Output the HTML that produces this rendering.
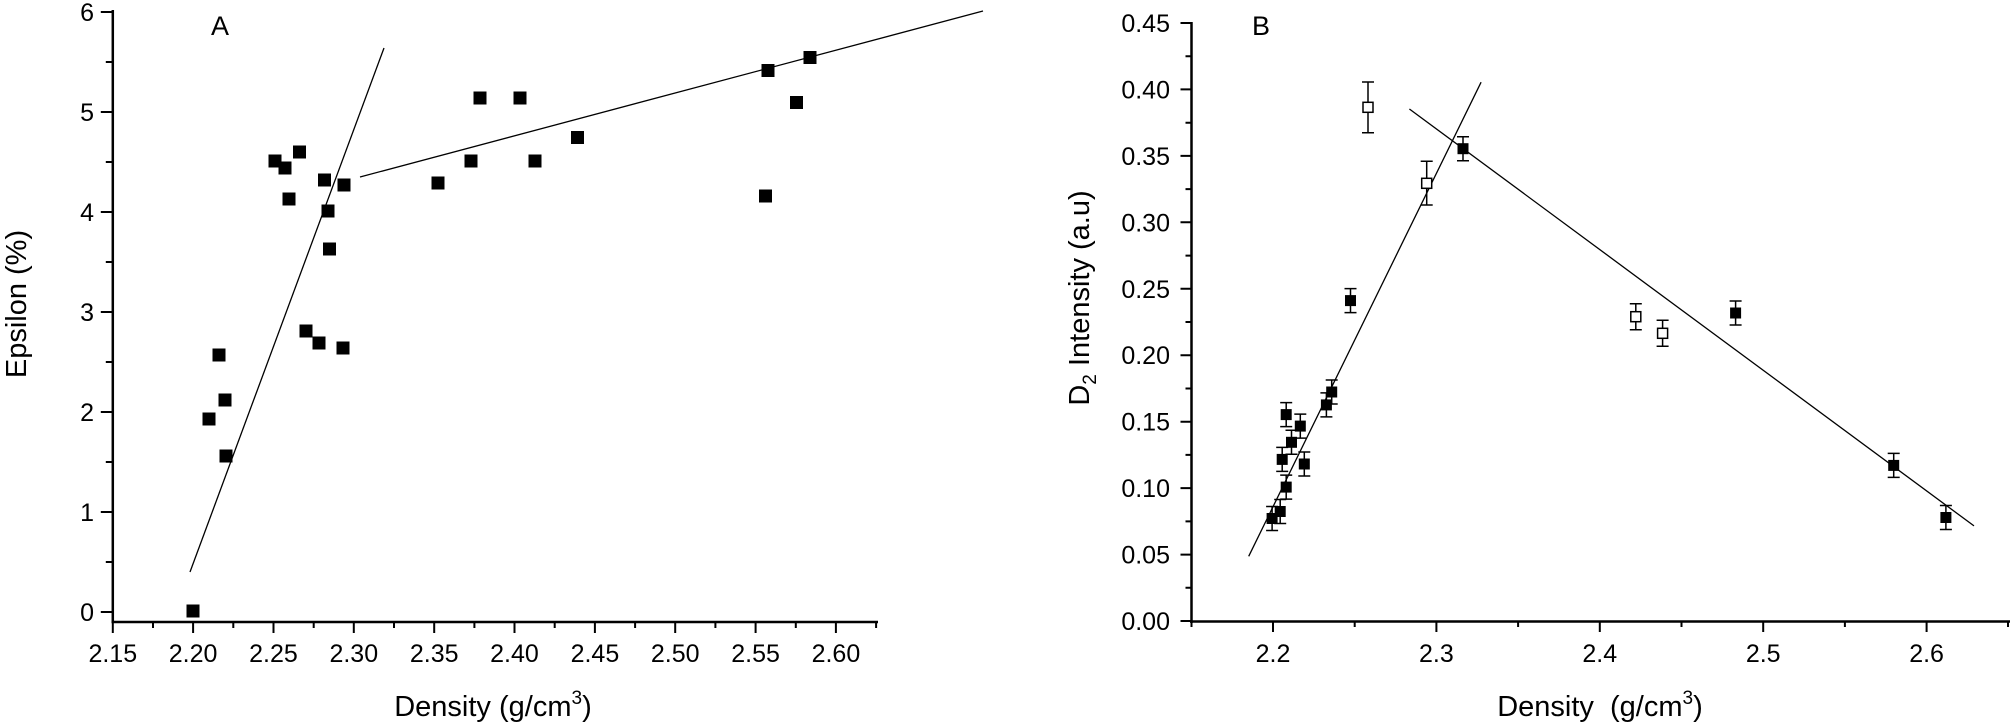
<!DOCTYPE html>
<html><head><meta charset="utf-8"><style>
html,body{margin:0;padding:0;background:#fff;}
svg{display:block;font-family:"Liberation Sans",sans-serif;}
</style></head><body>
<svg width="2010" height="724" viewBox="0 0 2010 724" xmlns="http://www.w3.org/2000/svg">
<!-- Panel A -->
<g stroke="#000" fill="none">
<line x1="112.8" y1="10" x2="112.8" y2="623" stroke-width="2.5"/>
<line x1="111.5" y1="622" x2="878" y2="622" stroke-width="2.5"/>
<path stroke-width="2" d="M112.8 612h-12M112.8 512h-12M112.8 412h-12M112.8 312h-12M112.8 212h-12M112.8 112h-12M112.8 12h-12
M112.8 562h-7M112.8 462h-7M112.8 362h-7M112.8 262h-7M112.8 162h-7M112.8 62h-7"/>
<path stroke-width="2" d="M112.8 622v11M193.1 622v11M273.5 622v11M353.8 622v11M434.2 622v11M514.5 622v11M594.9 622v11M675.2 622v11M755.6 622v11M835.9 622v11
M153 622v6M233.3 622v6M313.7 622v6M394 622v6M474.4 622v6M554.7 622v6M635.1 622v6M715.4 622v6M795.8 622v6M876.1 622v6"/>
<line x1="190" y1="572" x2="384" y2="48" stroke-width="1.3"/>
<line x1="360" y1="177" x2="983" y2="11" stroke-width="1.3"/>
</g>
<g font-size="25" text-anchor="end">
<text x="94" y="621">0</text><text x="94" y="521">1</text><text x="94" y="421">2</text><text x="94" y="321">3</text><text x="94" y="221">4</text><text x="94" y="121">5</text><text x="94" y="21">6</text>
</g>
<g font-size="25" text-anchor="middle">
<text x="112.8" y="662">2.15</text><text x="193.1" y="662">2.20</text><text x="273.5" y="662">2.25</text><text x="353.8" y="662">2.30</text><text x="434.2" y="662">2.35</text><text x="514.5" y="662">2.40</text><text x="594.9" y="662">2.45</text><text x="675.2" y="662">2.50</text><text x="755.6" y="662">2.55</text><text x="835.9" y="662">2.60</text>
</g>
<text x="493" y="716" font-size="29" text-anchor="middle">Density (g/cm<tspan font-size="19" dy="-12">3</tspan><tspan dy="12">)</tspan></text>
<text transform="translate(26,304) rotate(-90)" font-size="29" text-anchor="middle">Epsilon (%)</text>
<text x="220" y="35" font-size="27" text-anchor="middle">A</text>
<g fill="#000">
<rect x="186.5" y="604.5" width="13" height="13"/><rect x="202.5" y="412.5" width="13" height="13"/><rect x="212.5" y="348.5" width="13" height="13"/><rect x="218.5" y="393.5" width="13" height="13"/><rect x="219.5" y="449.5" width="13" height="13"/>
<rect x="268.5" y="154.5" width="13" height="13"/><rect x="278.5" y="161.5" width="13" height="13"/><rect x="282.5" y="192.5" width="13" height="13"/><rect x="293" y="145.5" width="13" height="13"/><rect x="299.5" y="324.5" width="13" height="13"/><rect x="312.5" y="336.5" width="13" height="13"/><rect x="318" y="173.5" width="13" height="13"/><rect x="321.5" y="204.5" width="13" height="13"/><rect x="323" y="242.5" width="13" height="13"/><rect x="336.5" y="341.5" width="13" height="13"/><rect x="337.5" y="178.5" width="13" height="13"/>
<rect x="431.5" y="176.5" width="13" height="13"/><rect x="464.5" y="154.5" width="13" height="13"/><rect x="473.5" y="91.5" width="13" height="13"/><rect x="513.5" y="91.5" width="13" height="13"/><rect x="528.5" y="154.5" width="13" height="13"/><rect x="571" y="131" width="13" height="13"/>
<rect x="761.5" y="64" width="13" height="13"/><rect x="759" y="189.5" width="13" height="13"/><rect x="790" y="96" width="13" height="13"/><rect x="803.5" y="51" width="13" height="13"/>
</g>
<!-- Panel B -->
<g stroke="#000" fill="none">
<line x1="1191.5" y1="22" x2="1191.5" y2="623" stroke-width="2.5"/>
<line x1="1190" y1="621.5" x2="2010" y2="621.5" stroke-width="2.5"/>
<path stroke-width="2" d="M1191.5 621h-11M1191.5 554.6h-11M1191.5 488.1h-11M1191.5 421.7h-11M1191.5 355.2h-11M1191.5 288.8h-11M1191.5 222.3h-11M1191.5 155.9h-11M1191.5 89.4h-11M1191.5 23h-11
M1191.5 587.8h-6M1191.5 521.4h-6M1191.5 454.9h-6M1191.5 388.5h-6M1191.5 322h-6M1191.5 255.6h-6M1191.5 189.1h-6M1191.5 122.7h-6M1191.5 56.2h-6"/>
<path stroke-width="2" d="M1273 621v11M1436.4 621v11M1599.8 621v11M1763.2 621v11M1926.6 621v11
M1191.5 621v6M1354.7 621v6M1518.1 621v6M1681.5 621v6M1844.9 621v6M2008 621v6"/>
<line x1="1248.7" y1="556.3" x2="1481.1" y2="82.2" stroke-width="1.3"/>
<line x1="1409.4" y1="109" x2="1974" y2="525.9" stroke-width="1.3"/>
<path stroke-width="1.5" d="
M1272.1 506.5v24M1266.1 506.5h12M1266.1 530.5h12
M1280.2 499.5v24M1274.2 499.5h12M1274.2 523.5h12
M1282.2 447.4v24M1276.2 447.4h12M1276.2 471.4h12
M1286.2 402.6v24M1280.2 402.6h12M1280.2 426.6h12
M1286.2 475.1v24M1280.2 475.1h12M1280.2 499.1h12
M1291.5 430.3v24M1285.5 430.3h12M1285.5 454.3h12
M1300.3 414.1v24M1294.3 414.1h12M1294.3 438.1h12
M1304.3 452v24M1298.3 452h12M1298.3 476h12
M1326.4 392.9v24M1320.4 392.9h12M1320.4 416.9h12
M1331.7 380v24M1325.7 380h12M1325.7 404h12
M1350.5 288.6v24M1344.5 288.6h12M1344.5 312.6h12
M1463 136.7v24M1457 136.7h12M1457 160.7h12
M1735.6 301v24M1729.6 301h12M1729.6 325h12
M1893.7 453.4v24M1887.7 453.4h12M1887.7 477.4h12
M1945.9 505.5v24M1939.9 505.5h12M1939.9 529.5h12
M1368 82v50.7M1362 82h12M1362 132.7h12
M1426.7 161.3v43.7M1420.7 161.3h12M1420.7 205h12
M1635.8 303.7v26M1629.8 303.7h12M1629.8 329.7h12
M1662.6 320.3v26M1656.6 320.3h12M1656.6 346.3h12"/>
</g>
<g fill="#000">
<rect x="1266.6" y="513" width="11" height="11"/><rect x="1274.7" y="506" width="11" height="11"/><rect x="1276.7" y="453.9" width="11" height="11"/><rect x="1280.7" y="409.1" width="11" height="11"/><rect x="1280.7" y="481.6" width="11" height="11"/><rect x="1286" y="436.8" width="11" height="11"/><rect x="1294.8" y="420.6" width="11" height="11"/><rect x="1298.8" y="458.5" width="11" height="11"/><rect x="1320.9" y="399.4" width="11" height="11"/><rect x="1326.2" y="386.5" width="11" height="11"/><rect x="1345" y="295.1" width="11" height="11"/><rect x="1457.5" y="143.2" width="11" height="11"/><rect x="1730.1" y="307.5" width="11" height="11"/><rect x="1888.2" y="459.9" width="11" height="11"/><rect x="1940.4" y="512" width="11" height="11"/>
</g>
<g fill="#fff" stroke="#000" stroke-width="1.5">
<rect x="1363" y="102.3" width="10" height="10"/><rect x="1421.7" y="178.3" width="10" height="10"/><rect x="1630.8" y="311.7" width="10" height="10"/><rect x="1657.6" y="328.3" width="10" height="10"/>
</g>
<g font-size="25" text-anchor="end">
<text x="1170" y="630">0.00</text><text x="1170" y="563.6">0.05</text><text x="1170" y="497.1">0.10</text><text x="1170" y="430.7">0.15</text><text x="1170" y="364.2">0.20</text><text x="1170" y="297.8">0.25</text><text x="1170" y="231.3">0.30</text><text x="1170" y="164.9">0.35</text><text x="1170" y="98.4">0.40</text><text x="1170" y="32">0.45</text>
</g>
<g font-size="25" text-anchor="middle">
<text x="1273" y="662">2.2</text><text x="1436.4" y="662">2.3</text><text x="1599.8" y="662">2.4</text><text x="1763.2" y="662">2.5</text><text x="1926.6" y="662">2.6</text>
</g>
<text x="1600" y="716" font-size="29" text-anchor="middle" xml:space="preserve">Density  (g/cm<tspan font-size="19" dy="-12">3</tspan><tspan dy="12">)</tspan></text>
<text transform="translate(1089,298) rotate(-90)" font-size="29" text-anchor="middle">D<tspan font-size="19" dy="7">2</tspan><tspan dy="-7"> Intensity (a.u)</tspan></text>
<text x="1261" y="35" font-size="27" text-anchor="middle">B</text>
</svg>
</body></html>
